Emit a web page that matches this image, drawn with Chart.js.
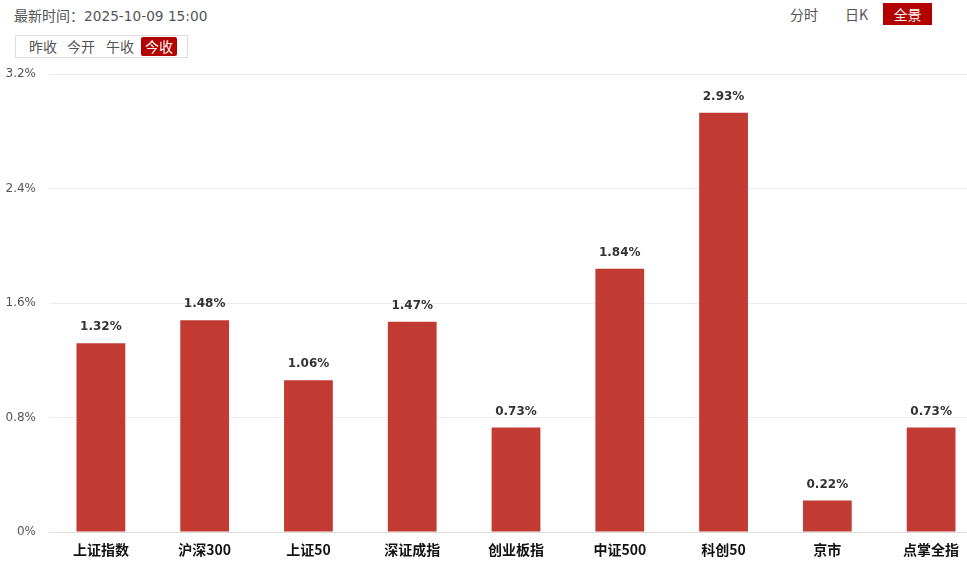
<!DOCTYPE html>
<html><head><meta charset="utf-8">
<script src="https://cdn.jsdelivr.net/npm/chart.js@4.4.0/dist/chart.umd.min.js"></script>
<style>
html,body{margin:0;padding:0;background:#fff;width:967px;height:564px;overflow:hidden;font-family:"Noto Sans CJK SC",sans-serif;}
#time{position:absolute;left:14px;top:5px;font-size:14px;color:#555;}
#time b{font-weight:normal;font-family:"DejaVu Sans",sans-serif;font-size:13.7px;}
#tabs{position:absolute;left:15px;top:35px;width:173px;height:23px;border:1px solid #ddd;box-sizing:border-box;}
#tabs span{position:absolute;top:1px;height:19px;line-height:19px;font-size:14px;color:#555;padding:0 2px;}
#tabs span.on{background:#b30000;color:#fff;border-radius:2px;padding:0 4px;}
.rt{position:absolute;top:4px;font-size:14px;color:#555;line-height:20px;}
.rt.on{background:#b30000;color:#fff;top:3px;height:22px;line-height:22px;text-align:center;}
#wrap{position:absolute;left:0;top:54px;width:983px;height:510px;}
</style></head><body>
<div id="time">最新时间：<b>2025-10-09 15:00</b></div>
<div id="tabs"><span style="left:11px">昨收</span><span style="left:49px">今开</span><span style="left:88px">午收</span><span class="on" style="left:125px">今收</span></div>
<div class="rt" style="left:790px">分时</div>
<div class="rt" style="left:845px">日K</div>
<div class="rt on" style="left:883px;width:49px">全景</div>
<div id="wrap"><canvas id="c"></canvas></div>
<script>
const categories = ["上证指数","沪深300","上证50","深证成指","创业板指","中证500","科创50","京市","点掌全指"];
const changes = [1.32, 1.48, 1.06, 1.47, 0.73, 1.84, 2.93, 0.22, 0.73];
const yTicks = [0, 0.8, 1.6, 2.4, 3.2];

const labelPlugin = {
  id: 'vals',
  afterDatasetsDraw(chart) {
    const ctx = chart.ctx;
    const meta = chart.getDatasetMeta(0);
    ctx.save();
    ctx.font = 'bold 12px "DejaVu Sans", sans-serif';
    ctx.fillStyle = '#333';
    ctx.textAlign = 'center';
    ctx.textBaseline = 'bottom';
    meta.data.forEach((bar, i) => {
      ctx.fillText(changes[i].toFixed(2) + '%', bar.x, bar.y - 10);
    });
    ctx.restore();
  }
};

new Chart(document.getElementById('c'), {
  type: 'bar',
  data: {
    labels: categories,
    datasets: [{
      data: changes,
      backgroundColor: '#c23b33',
      barPercentage: 0.47,
      categoryPercentage: 1
    }]
  },
  options: {
    responsive: true,
    maintainAspectRatio: false,
    animation: false,
    layout: { padding: { top: 0, right: 0, left: 0, bottom: 0 } },
    plugins: { legend: { display: false }, tooltip: { enabled: false } },
    scales: {
      x: {
        grid: { display: false, drawTicks: false },
        border: { color: '#ddd' },
        ticks: { color: '#111', padding: 9, font: { size: 14, weight: 'bold', family: '"Noto Sans CJK SC"' } },
        afterFit(s) { s.height = 32; }
      },
      y: {
        min: 0, max: 3.2,
        afterBuildTicks(s) { s.ticks = yTicks.map(v => ({ value: v })); },
        grid: { color: '#ebebeb', drawTicks: false },
        border: { display: false },
        ticks: {
          color: '#555', padding: 13,
          font: { size: 12, family: '"DejaVu Sans", sans-serif' },
          callback: v => (v === 0 ? '0' : v.toFixed(1)) + '%'
        },
        afterFit(s) { s.width = 49; }
      }
    }
  },
  plugins: [labelPlugin]
});
</script>
</body></html>
